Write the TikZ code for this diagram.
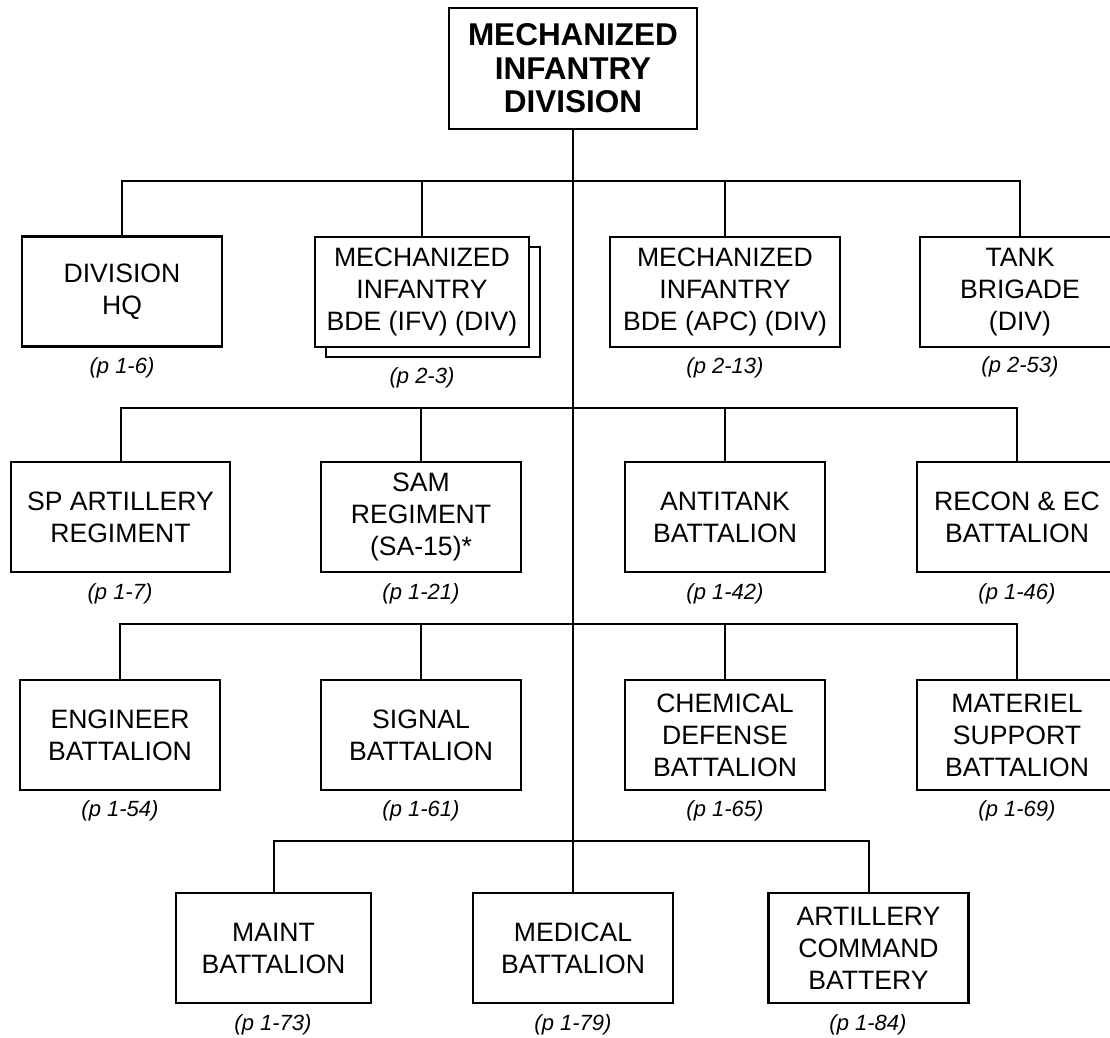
\documentclass[tikz,border=0pt]{standalone}
\usepackage{fontspec}
\setmainfont{Liberation Sans}
\usetikzlibrary{shadows}

\tikzset{
  unit/.style={draw, line width=2.6pt, fill=white, align=center,
    minimum width=200pt, minimum height=110pt, inner sep=0pt,
    font=\fontsize{26.6}{32}\selectfont},
  topunit/.style={unit, minimum width=248pt, minimum height=121pt,
    font=\fontsize{31.5}{33.5}\selectfont\bfseries},
  pageref/.style={font=\fontsize{22}{26}\selectfont\itshape, inner sep=0pt},
  link/.style={line width=2pt}
}

\begin{document}
\begin{tikzpicture}[x=1pt, y=-1pt]
	\useasboundingbox (0,0) rectangle (1110,1037);
	
	% division
	\node[topunit] (div) at (573,68.5) {MECHANIZED\\INFANTRY\\DIVISION};
	
	% bars
	\coordinate (bar1) at (572,181);
	\coordinate (bar2) at (572,408);
	\coordinate (bar3) at (572,624);
	\coordinate (bar4) at (572,841);
	
	% first row
	\node[unit] (hq) at (122,291.5) {DIVISION\\HQ};
	\node[unit, minimum width=214pt, copy shadow={shadow xshift=11pt, shadow yshift=-10pt}] (ifv) at (422,292) {MECHANIZED\\INFANTRY\\BDE (IFV) (DIV)};
	\node[unit, minimum width=230pt] (apc) at (725,292) {MECHANIZED\\INFANTRY\\BDE (APC) (DIV)};
	\node[unit] (tank) at (1020,292) {TANK\\BRIGADE\\(DIV)};
	\node[pageref] (hqp) at (122,368) {(p 1-6)};
	\node[pageref] (ifvp) at (422,378) {(p 2-3)};
	\node[pageref] (apcp) at (725,368) {(p 2-13)};
	\node[pageref] (tankp) at (1020,367) {(p 2-53)};
	
	% second row
	\node[unit, minimum width=219pt] (spart) at (120.5,517) {SP ARTILLERY\\REGIMENT};
	\node[unit] (sam) at (421,517) {SAM\\REGIMENT\\(SA-15)*};
	\node[unit] (at) at (725,517) {ANTITANK\\BATTALION};
	\node[unit] (recon) at (1017,517) {RECON \& EC\\BATTALION};
	\node[pageref] (spartp) at (120,594) {(p 1-7)};
	\node[pageref] (samp) at (421,594) {(p 1-21)};
	\node[pageref] (atp) at (725,594) {(p 1-42)};
	\node[pageref] (reconp) at (1017,594) {(p 1-46)};
	
	% third row
	\node[unit] (eng) at (120,735) {ENGINEER\\BATTALION};
	\node[unit] (sig) at (421,735) {SIGNAL\\BATTALION};
	\node[unit] (chem) at (725,735) {CHEMICAL\\DEFENSE\\BATTALION};
	\node[unit] (mat) at (1017,735) {MATERIEL\\SUPPORT\\BATTALION};
	\node[pageref] (engp) at (120,811) {(p 1-54)};
	\node[pageref] (sigp) at (421,811) {(p 1-61)};
	\node[pageref] (chemp) at (725,811) {(p 1-65)};
	\node[pageref] (matp) at (1017,811) {(p 1-69)};
	
	% fourth row
	\node[unit, minimum width=195pt] (maint) at (273.5,948) {MAINT\\BATTALION};
	\node[unit] (med) at (573,948) {MEDICAL\\BATTALION};
	\node[unit] (arty) at (868.5,948) {ARTILLERY\\COMMAND\\BATTERY};
	\node[pageref] (maintp) at (273,1025) {(p 1-73)};
	\node[pageref] (medp) at (573,1025) {(p 1-79)};
	\node[pageref] (artyp) at (868,1025) {(p 1-84)};
	
	% trunk
	\draw[link] (div.south) -- (div.south |- med.north);
	
	% lines: first row
	\draw[link] (hq.north) -- (hq.north |- bar1) -- (tank.north |- bar1) -- (tank.north);
	\draw[link] (ifv.north) -- (ifv.north |- bar1);
	\draw[link] (apc.north) -- (apc.north |- bar1);
	
	% lines: second row
	\draw[link] (spart.north) -- (spart.north |- bar2) -- (recon.north |- bar2) -- (recon.north);
	\draw[link] (sam.north) -- (sam.north |- bar2);
	\draw[link] (at.north) -- (at.north |- bar2);
	
	% lines: third row
	\draw[link] (eng.north) -- (eng.north |- bar3) -- (mat.north |- bar3) -- (mat.north);
	\draw[link] (sig.north) -- (sig.north |- bar3);
	\draw[link] (chem.north) -- (chem.north |- bar3);
	
	% lines: fourth row
	\draw[link] (maint.north) -- (maint.north |- bar4) -- (arty.north |- bar4) -- (arty.north);
\end{tikzpicture}
\end{document}
